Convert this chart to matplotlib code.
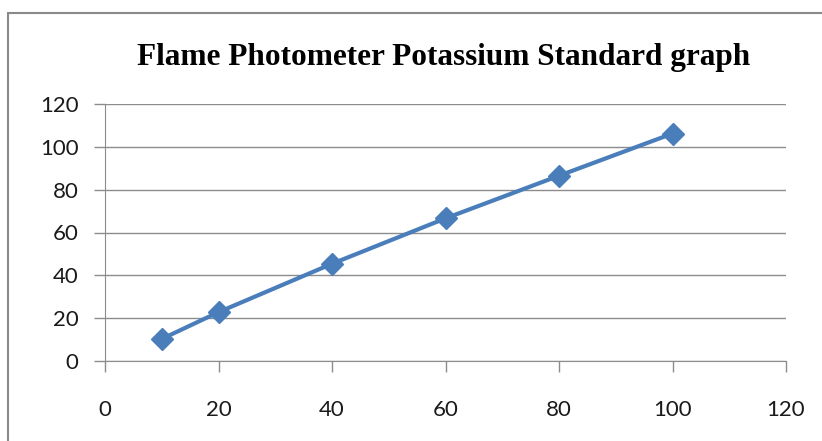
import matplotlib
matplotlib.use("Agg")
import matplotlib.pyplot as plt
from matplotlib.patches import Rectangle

# standard concentrations vs. photometer readings
conc = [10, 20, 40, 60, 80, 100]
reading = [10.3, 22.8, 45.4, 66.6, 86.5, 106.2]
xticks = [0, 20, 40, 60, 80, 100, 120]
yticks = [0, 20, 40, 60, 80, 100, 120]

W, H = 822, 441
fig = plt.figure(figsize=(W / 100, H / 100), dpi=100)

# outer chart frame (cropped at right and bottom)
fig.add_artist(Rectangle((8 / W, -0.2), 1.2, 1.2 - 13 / H,
                         transform=fig.transFigure, fill=False,
                         edgecolor="#8a8a8a", linewidth=1.5))

ax = fig.add_axes([105 / W, 1 - 361 / H, (786 - 105) / W, (361 - 104) / H])
ax.plot(conc, reading, color="#4a7ebb", linewidth=3, marker="D",
        markersize=11, zorder=3, clip_on=False)

ax.set_xlim(0, 120)
ax.set_ylim(0, 120)
ax.set_xticks(xticks)
ax.set_yticks(yticks)
ax.grid(axis="y", color="#8c8c8c", linewidth=1)
ax.set_axisbelow(True)
for s in ["top", "right"]:
    ax.spines[s].set_visible(False)
for s in ["left", "bottom"]:
    ax.spines[s].set_color("#8c8c8c")
ax.tick_params(axis="both", color="#8c8c8c", length=8, width=1,
               labelsize=16, labelcolor="#1a1a1a")
ax.tick_params(axis="x", pad=20)
ax.tick_params(axis="y", pad=11)
for lab in ax.get_xticklabels() + ax.get_yticklabels():
    lab.set_family("Lato")

fig.text(0.540, 1 - 58 / H, "Flame Photometer Potassium Standard graph",
         ha="center", va="center", family="Liberation Serif",
         fontweight="bold", fontsize=22.5)

fig.savefig("out.png", dpi=100)
